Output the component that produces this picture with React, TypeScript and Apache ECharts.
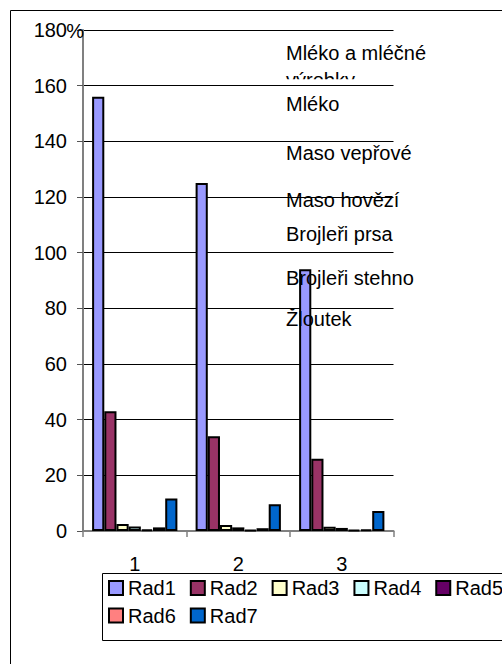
import React, { useEffect, useRef } from "react";
import * as echarts from "echarts";

// Categories and series values (percent)
const categories = ["1", "2", "3"];
const seriesNames = ["Rad1", "Rad2", "Rad3", "Rad4", "Rad5", "Rad6", "Rad7"];
const rad1 = [156, 125, 94];
const rad2 = [43, 34, 26];
const rad3 = [2.5, 2.2, 1.5];
const rad4 = [1.6, 1.3, 1.1];
const rad5 = [0.6, 0.4, 0.4];
const rad6 = [1.3, 1.0, 0.6];
const rad7 = [11.7, 9.6, 7.2];
const seriesColors = ["#9999FF", "#993366", "#FFFFCC", "#CCFFFF", "#660066", "#FF8080", "#0066CC"];

// Y axis scale
const yMin = 0;
const yMax = 180;
const yStep = 20;
const yUnit = "%";

// Product captions floating over the plot
const captions = [
  "Mléko a mléčné",
  "Mléko",
  "Maso vepřové",
  "Maso hovězí",
  "Brojleři prsa",
  "Brojleři stehno",
  "Žloutek",
];
const captionWrap = "výrobky";
const captionMidlines = [52.5, 104, 152.5, 200, 233.7, 278, 319];

const FONT = "'Liberation Sans', Arial, sans-serif";

export default function App() {
  const ref = useRef<HTMLDivElement>(null);

  useEffect(() => {
    if (!ref.current) return;
    const chart = echarts.init(ref.current, null, { renderer: "svg" });
    const values = [rad1, rad2, rad3, rad4, rad5, rad6, rad7];

    const captionTexts = captions.map((t, i) => ({
      type: "text",
      z: 10,
      x: 286,
      y: captionMidlines[i],
      style: {
        text: t,
        fill: "#000",
        font: `20px ${FONT}`,
        align: "left",
        verticalAlign: "middle",
      },
    }));

    const legendBase = {
      left: 108,
      width: 440,
      orient: "horizontal",
      padding: 0,
      icon: "rect",
      itemWidth: 14,
      itemHeight: 14,
      itemGap: 14,
      itemStyle: { borderColor: "#000", borderWidth: 2 },
      textStyle: { color: "#000", fontSize: 20, fontFamily: FONT },
    };

    chart.setOption({
      animation: false,
      textStyle: { fontFamily: FONT },
      grid: { left: 83, right: 108.5, top: 30, bottom: 133, containLabel: false },
      xAxis: {
        type: "category",
        data: categories,
        axisLine: { lineStyle: { color: "#808080", width: 2 } },
        axisTick: { show: true, alignWithLabel: false, length: 6, lineStyle: { color: "#808080", width: 1.5 } },
        axisLabel: { color: "#000", fontSize: 20, fontFamily: FONT, margin: 23 },
        splitLine: { show: false },
      },
      yAxis: {
        type: "value",
        min: yMin,
        max: yMax,
        interval: yStep,
        axisLine: { show: true, lineStyle: { color: "#808080", width: 2 } },
        axisTick: { show: true, length: 6, lineStyle: { color: "#555", width: 1 } },
        axisLabel: { color: "#000", fontSize: 20, fontFamily: FONT, margin: 16 },
        splitLine: { show: true, lineStyle: { color: "#000", width: 1 } },
      },
      legend: [
        { ...legendBase, top: 578, data: seriesNames.slice(0, 5) },
        { ...legendBase, top: 605.5, data: seriesNames.slice(5) },
      ],
      series: seriesNames.map((name, i) => ({
        name,
        type: "bar",
        data: values[i],
        barGap: "0%",
        barCategoryGap: "17.6%",
        itemStyle: { color: seriesColors[i], borderColor: "#000", borderWidth: 2 },
      })),
      graphic: [
        {
          type: "rect",
          z: 0,
          shape: { x: 10.5, y: 10.5, width: 600, height: 700 },
          style: { fill: "none", stroke: "#000", lineWidth: 1 },
        },
        {
          type: "rect",
          z: 0,
          shape: { x: 102.5, y: 573.5, width: 500, height: 67 },
          style: { fill: "none", stroke: "#000", lineWidth: 1 },
        },
        // unit of the value axis, beside the top tick label
        {
          type: "text",
          z: 10,
          x: 84,
          y: 31,
          style: {
            text: yUnit,
            fill: "#000",
            font: `20px ${FONT}`,
            align: "right",
            verticalAlign: "middle",
          },
        },
        // second line of the first caption, cut off by its text box
        {
          type: "text",
          z: -2,
          x: 286,
          y: 79.5,
          style: {
            text: captionWrap,
            fill: "#000",
            font: `20px ${FONT}`,
            align: "left",
            verticalAlign: "middle",
          },
        },
        {
          type: "rect",
          z: -1,
          shape: { x: 282, y: 79.2, width: 90, height: 18 },
          style: { fill: "#fff" },
        },
        ...captionTexts,
      ],
    });

    return () => chart.dispose();
  }, []);

  return (
    <div
      ref={ref}
      style={{ position: "fixed", left: 0, top: 0, width: 502, height: 664, background: "#fff" }}
    />
  );
}
